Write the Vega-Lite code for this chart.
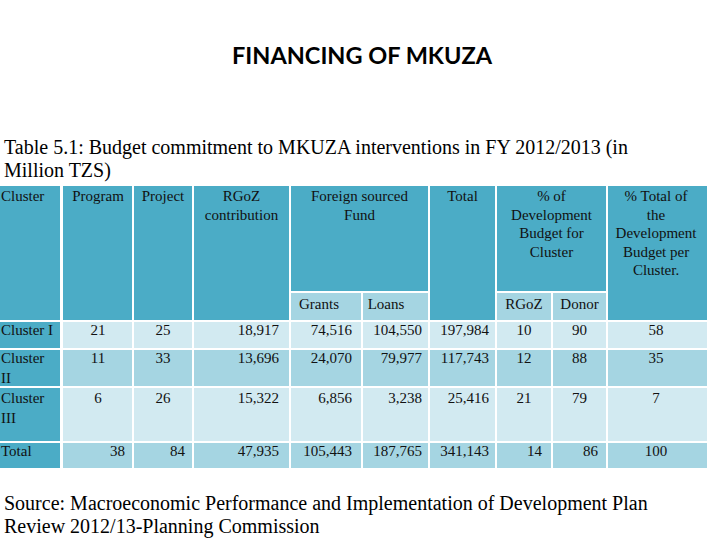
{
  "$schema": "https://vega.github.io/schema/vega-lite/v6.json",
  "width": 720,
  "height": 540,
  "padding": 0,
  "autosize": {"type": "fit", "contains": "padding"},
  "background": "white",
  "config": {"view": {"stroke": null}},
  "datasets": {
    "cols": [
      {"c": "Cluster", "x0": 0, "x1": 60, "xm": 30, "xr": 60, "xl": 1},
      {"c": "Program", "x0": 63, "x1": 132, "xm": 98, "xr": 125},
      {"c": "Project", "x0": 134, "x1": 192, "xm": 163, "xr": 185},
      {"c": "RGoZ", "x0": 194, "x1": 289, "xm": 241.5, "xr": 279},
      {"c": "Foreign", "x0": 291, "x1": 428, "xm": 359.5, "xr": 428},
      {"c": "Grants", "x0": 291, "x1": 361, "xm": 319, "xr": 352},
      {"c": "Loans", "x0": 363, "x1": 428, "xm": 386, "xr": 422},
      {"c": "Total", "x0": 430, "x1": 495, "xm": 462.5, "xr": 489},
      {"c": "PctDev", "x0": 497, "x1": 606, "xm": 551.5, "xr": 606},
      {"c": "RGoZShare", "x0": 497, "x1": 551, "xm": 524, "xr": 542},
      {"c": "DonorShare", "x0": 553, "x1": 606, "xm": 579.5, "xr": 598},
      {"c": "PctTotal", "x0": 608, "x1": 707, "xm": 656, "xr": 700},
      {"c": "Page", "x0": 0, "x1": 720, "xm": 362, "xr": 691, "xl": 4}
    ],
    "rows": [
      {"r": "Head", "y0": 186, "y1": 320, "yt": 196},
      {"r": "HeadTop", "y0": 186, "y1": 291, "yt": 196},
      {"r": "HeadSub", "y0": 293, "y1": 320, "yt": 304},
      {"r": "R1", "y0": 322, "y1": 348, "yt": 330},
      {"r": "R2", "y0": 350, "y1": 386, "yt": 358},
      {"r": "R3", "y0": 388, "y1": 441, "yt": 398},
      {"r": "RT", "y0": 443, "y1": 468, "yt": 451},
      {"r": "Title", "yt": 57},
      {"r": "Cap1", "yt": 148},
      {"r": "Cap2", "yt": 171},
      {"r": "Src1", "yt": 504},
      {"r": "Src2", "yt": 527}
    ],
    "cells": [
      {"r": "Head", "c": "Cluster", "band": "head", "t": "Cluster"},
      {"r": "Head", "c": "Program", "band": "head", "t": "Program"},
      {"r": "Head", "c": "Project", "band": "head", "t": "Project"},
      {"r": "Head", "c": "RGoZ", "band": "head", "t": "RGoZ\ncontribution"},
      {"r": "HeadTop", "c": "Foreign", "band": "head", "t": "Foreign sourced\nFund"},
      {"r": "Head", "c": "Total", "band": "head", "t": "Total"},
      {"r": "HeadTop", "c": "PctDev", "band": "head", "t": "% of\nDevelopment\nBudget for\nCluster"},
      {"r": "Head", "c": "PctTotal", "band": "head", "t": "% Total of\nthe\nDevelopment\nBudget per\nCluster."},
      {"r": "HeadSub", "c": "Grants", "band": "sub", "t": "Grants"},
      {"r": "HeadSub", "c": "Loans", "band": "sub", "t": "Loans"},
      {"r": "HeadSub", "c": "RGoZShare", "band": "sub", "t": "RGoZ"},
      {"r": "HeadSub", "c": "DonorShare", "band": "sub", "t": "Donor"},

      {"r": "R1", "c": "Cluster", "band": "head", "t": "Cluster I"},
      {"r": "R1", "c": "Program", "band": "light", "v": 21},
      {"r": "R1", "c": "Project", "band": "light", "v": 25},
      {"r": "R1", "c": "RGoZ", "band": "light", "v": 18917},
      {"r": "R1", "c": "Grants", "band": "light", "v": 74516},
      {"r": "R1", "c": "Loans", "band": "light", "v": 104550},
      {"r": "R1", "c": "Total", "band": "light", "v": 197984},
      {"r": "R1", "c": "RGoZShare", "band": "light", "v": 10},
      {"r": "R1", "c": "DonorShare", "band": "light", "v": 90},
      {"r": "R1", "c": "PctTotal", "band": "light", "v": 58},

      {"r": "R2", "c": "Cluster", "band": "head", "t": "Cluster\nII"},
      {"r": "R2", "c": "Program", "band": "mid", "v": 11},
      {"r": "R2", "c": "Project", "band": "mid", "v": 33},
      {"r": "R2", "c": "RGoZ", "band": "mid", "v": 13696},
      {"r": "R2", "c": "Grants", "band": "mid", "v": 24070},
      {"r": "R2", "c": "Loans", "band": "mid", "v": 79977},
      {"r": "R2", "c": "Total", "band": "mid", "v": 117743},
      {"r": "R2", "c": "RGoZShare", "band": "mid", "v": 12},
      {"r": "R2", "c": "DonorShare", "band": "mid", "v": 88},
      {"r": "R2", "c": "PctTotal", "band": "mid", "v": 35},

      {"r": "R3", "c": "Cluster", "band": "head", "t": "Cluster\nIII"},
      {"r": "R3", "c": "Program", "band": "light", "v": 6},
      {"r": "R3", "c": "Project", "band": "light", "v": 26},
      {"r": "R3", "c": "RGoZ", "band": "light", "v": 15322},
      {"r": "R3", "c": "Grants", "band": "light", "v": 6856},
      {"r": "R3", "c": "Loans", "band": "light", "v": 3238},
      {"r": "R3", "c": "Total", "band": "light", "v": 25416},
      {"r": "R3", "c": "RGoZShare", "band": "light", "v": 21},
      {"r": "R3", "c": "DonorShare", "band": "light", "v": 79},
      {"r": "R3", "c": "PctTotal", "band": "light", "v": 7},

      {"r": "RT", "c": "Cluster", "band": "head", "t": "Total"},
      {"r": "RT", "c": "Program", "band": "mid", "v": 38},
      {"r": "RT", "c": "Project", "band": "mid", "v": 84},
      {"r": "RT", "c": "RGoZ", "band": "mid", "v": 47935},
      {"r": "RT", "c": "Grants", "band": "mid", "v": 105443},
      {"r": "RT", "c": "Loans", "band": "mid", "v": 187765},
      {"r": "RT", "c": "Total", "band": "mid", "v": 341143},
      {"r": "RT", "c": "RGoZShare", "band": "mid", "v": 14},
      {"r": "RT", "c": "DonorShare", "band": "mid", "v": 86},
      {"r": "RT", "c": "PctTotal", "band": "mid", "v": 100}
    ],
    "notes": [
      {"r": "Title", "c": "Page", "t": "FINANCING OF MKUZA"},
      {"r": "Cap1", "c": "Page", "t": "Table 5.1: Budget commitment to MKUZA interventions in FY 2012/2013 (in"},
      {"r": "Cap2", "c": "Page", "t": "Million TZS)"},
      {"r": "Src1", "c": "Page", "t": "Source: Macroeconomic Performance and Implementation of Development Plan"},
      {"r": "Src2", "c": "Page", "t": "Review 2012/13-Planning Commission"}
    ]
  },
  "layer": [
    {
      "data": {"name": "cells"},
      "transform": [
        {"lookup": "c", "from": {"data": {"name": "cols"}, "key": "c", "fields": ["x0", "x1"]}},
        {"lookup": "r", "from": {"data": {"name": "rows"}, "key": "r", "fields": ["y0", "y1"]}}
      ],
      "mark": {"type": "rect"},
      "encoding": {
        "x": {"field": "x0", "type": "quantitative", "scale": {"domain": [0, 720], "nice": false, "zero": false}, "axis": null},
        "x2": {"field": "x1"},
        "y": {"field": "y0", "type": "quantitative", "scale": {"domain": [0, 540], "nice": false, "zero": false, "reverse": true}, "axis": null},
        "y2": {"field": "y1"},
        "color": {"field": "band", "type": "nominal", "scale": {"domain": ["head", "sub", "light", "mid"], "range": ["#4bacc6", "#a5d5e2", "#d2eaf1", "#a5d5e2"]}, "legend": null}
      }
    },
    {
      "data": {"name": "cells"},
      "transform": [
        {"filter": "(datum.band == 'head' && datum.c != 'Cluster') || datum.band == 'sub'"},
        {"lookup": "c", "from": {"data": {"name": "cols"}, "key": "c", "fields": ["xm"]}},
        {"lookup": "r", "from": {"data": {"name": "rows"}, "key": "r", "fields": ["yt"]}}
      ],
      "mark": {"type": "text", "align": "center", "baseline": "top", "dy": -7, "lineBreak": "\n", "lineHeight": 18.5, "font": "Liberation Serif", "fontSize": 15, "color": "#111111"},
      "encoding": {
        "x": {"field": "xm", "type": "quantitative"},
        "y": {"field": "yt", "type": "quantitative"},
        "text": {"field": "t"}
      }
    },
    {
      "data": {"name": "cells"},
      "transform": [
        {"filter": "datum.c == 'Cluster'"},
        {"lookup": "c", "from": {"data": {"name": "cols"}, "key": "c", "fields": ["xl"]}},
        {"lookup": "r", "from": {"data": {"name": "rows"}, "key": "r", "fields": ["yt"]}}
      ],
      "mark": {"type": "text", "align": "left", "baseline": "top", "dy": -7, "lineBreak": "\n", "lineHeight": 20, "font": "Liberation Serif", "fontSize": 15, "color": "#111111"},
      "encoding": {
        "x": {"field": "xl", "type": "quantitative"},
        "y": {"field": "yt", "type": "quantitative"},
        "text": {"field": "t"}
      }
    },
    {
      "data": {"name": "cells"},
      "transform": [
        {"filter": "isValid(datum.v) && (datum.c == 'PctTotal' || (datum.r != 'RT' && indexof(['Program','Project','RGoZShare','DonorShare'], datum.c) >= 0))"},
        {"lookup": "c", "from": {"data": {"name": "cols"}, "key": "c", "fields": ["xm"]}},
        {"lookup": "r", "from": {"data": {"name": "rows"}, "key": "r", "fields": ["yt"]}}
      ],
      "mark": {"type": "text", "align": "center", "baseline": "top", "dy": -7, "font": "Liberation Serif", "fontSize": 15, "color": "#111111"},
      "encoding": {
        "x": {"field": "xm", "type": "quantitative"},
        "y": {"field": "yt", "type": "quantitative"},
        "text": {"field": "v", "type": "quantitative", "format": ",d"}
      }
    },
    {
      "data": {"name": "cells"},
      "transform": [
        {"filter": "isValid(datum.v) && !(datum.c == 'PctTotal' || (datum.r != 'RT' && indexof(['Program','Project','RGoZShare','DonorShare'], datum.c) >= 0))"},
        {"lookup": "c", "from": {"data": {"name": "cols"}, "key": "c", "fields": ["xr"]}},
        {"lookup": "r", "from": {"data": {"name": "rows"}, "key": "r", "fields": ["yt"]}}
      ],
      "mark": {"type": "text", "align": "right", "baseline": "top", "dy": -7, "font": "Liberation Serif", "fontSize": 15, "color": "#111111"},
      "encoding": {
        "x": {"field": "xr", "type": "quantitative"},
        "y": {"field": "yt", "type": "quantitative"},
        "text": {"field": "v", "type": "quantitative", "format": ",d"}
      }
    },
    {
      "data": {"name": "notes"},
      "transform": [
        {"filter": "datum.r == 'Title'"},
        {"lookup": "c", "from": {"data": {"name": "cols"}, "key": "c", "fields": ["xm"]}},
        {"lookup": "r", "from": {"data": {"name": "rows"}, "key": "r", "fields": ["yt"]}}
      ],
      "mark": {"type": "text", "align": "center", "baseline": "middle", "font": "Lato", "fontWeight": "bold", "fontSize": 23.5, "color": "#000000"},
      "encoding": {
        "x": {"field": "xm", "type": "quantitative"},
        "y": {"field": "yt", "type": "quantitative"},
        "text": {"field": "t"}
      }
    },
    {
      "data": {"name": "notes"},
      "transform": [
        {"filter": "datum.r != 'Title'"},
        {"lookup": "c", "from": {"data": {"name": "cols"}, "key": "c", "fields": ["xl"]}},
        {"lookup": "r", "from": {"data": {"name": "rows"}, "key": "r", "fields": ["yt"]}}
      ],
      "mark": {"type": "text", "align": "left", "baseline": "middle", "font": "Liberation Serif", "fontSize": 20, "color": "#000000"},
      "encoding": {
        "x": {"field": "xl", "type": "quantitative"},
        "y": {"field": "yt", "type": "quantitative"},
        "text": {"field": "t"}
      }
    }
  ]
}
